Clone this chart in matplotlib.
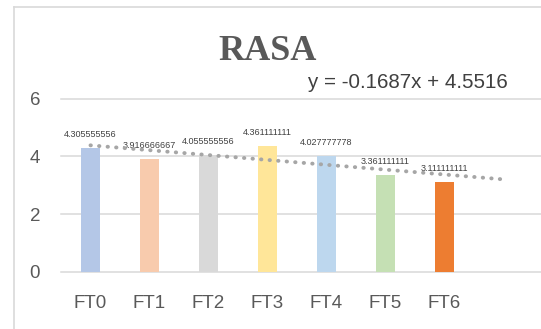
import matplotlib
matplotlib.use("Agg")
import matplotlib.pyplot as plt
from matplotlib.lines import Line2D
import numpy as np

categories = ["FT0", "FT1", "FT2", "FT3", "FT4", "FT5", "FT6"]
values = [4.305555556, 3.916666667, 4.055555556, 4.361111111, 4.027777778, 3.361111111, 3.111111111]
labels = ["4.305555556", "3.916666667", "4.055555556", "4.361111111", "4.027777778", "3.361111111", "3.111111111"]
colors = ["#B4C7E7", "#F8CBAD", "#D9D9D9", "#FFE699", "#BDD7EE", "#C5E0B4", "#ED7D31"]
slope, intercept = -0.1687, 4.5516
yticks = [0, 2, 4, 6]

W, H = 541, 329
fig = plt.figure(figsize=(W / 100, H / 100), dpi=100)
ax = fig.add_axes([61 / W, 57.3 / H, 1 - 61 / W, (271.7 - 98.7) / H])

x = np.arange(len(categories))
ax.bar(x, values, width=0.32, color=colors, zorder=3)

for xi, v, lab in zip(x, values, labels):
    ax.annotate(lab, (xi, v), xytext=(0, 13), textcoords="offset pixels",
                ha="center", va="center", fontsize=6.5, color="#404040", family="Liberation Sans")

# trendline (x is 1-based in Excel), forward forecast 1 period
tx = np.array([1, len(categories) + 1])
ty = slope * tx + intercept
ax.plot(tx - 1, ty, linestyle=(0, (0.1, 2.1)), dash_capstyle="round", color="#A6A6A6",
        linewidth=2.8, zorder=4)

for t in yticks:
    ax.axhline(t, color="#D9D9D9", linewidth=1.1, zorder=1, clip_on=False)

ax.set_xlim(-0.5, (W - 61) / 59 - 0.5)
ax.set_ylim(0, 6)
ax.set_yticks(yticks)
ax.set_yticklabels([str(t) for t in yticks], fontsize=13.5, color="#595959", family="Liberation Sans")
ax.set_xticks(x)
ax.set_xticklabels(categories, fontsize=13.5, color="#595959", family="Liberation Sans")
ax.tick_params(axis="both", length=0)
ax.tick_params(axis="y", pad=15)
ax.tick_params(axis="x", pad=17)
for s in ax.spines.values():
    s.set_visible(False)

fig.text(267.5 / W, 1 - 52 / H, "RASA", ha="center", va="center", fontsize=26,
         fontweight="bold", family="Liberation Serif", color="#595959")
fig.text(508 / W, 1 - 82 / H, "y = -0.1687x + 4.5516", ha="right", va="center",
         fontsize=14.8, family="Liberation Sans", color="#404040")

# chart border (left and top visible)
fig.add_artist(Line2D([13.5 / W, 13.5 / W], [0, 1 - 7 / H], color="#D9D9D9", linewidth=1.2,
                      transform=fig.transFigure))
fig.add_artist(Line2D([13.5 / W, 1], [1 - 7 / H, 1 - 7 / H], color="#D9D9D9", linewidth=1.2,
                      transform=fig.transFigure))

fig.savefig("out.png", dpi=100)
